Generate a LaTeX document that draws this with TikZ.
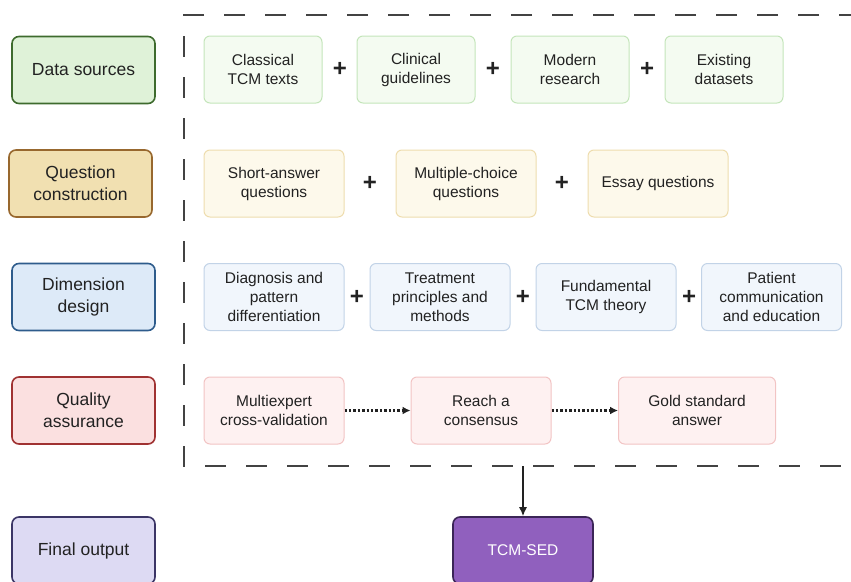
\documentclass[tikz,border=0pt]{standalone}
\usepackage{fontspec}
\setmainfont{Liberation Sans}
\usetikzlibrary{arrows.meta,positioning}
\definecolor{srcfill}{HTML}{DFF2D8}
\definecolor{srcline}{HTML}{3E6B2E}
\definecolor{srcitem}{HTML}{F4FBF1}
\definecolor{srcedge}{HTML}{C4E5BA}
\definecolor{qfill}{HTML}{F1E0B1}
\definecolor{qline}{HTML}{98682E}
\definecolor{qitem}{HTML}{FDF9EB}
\definecolor{qedge}{HTML}{EEDDAE}
\definecolor{dimfill}{HTML}{DDEAF8}
\definecolor{dimline}{HTML}{2E5C8C}
\definecolor{dimitem}{HTML}{F1F6FC}
\definecolor{dimedge}{HTML}{C2D3E7}
\definecolor{qafill}{HTML}{FBE0E0}
\definecolor{qaline}{HTML}{A03232}
\definecolor{qaitem}{HTML}{FEF1F1}
\definecolor{qaedge}{HTML}{F2C4C4}
\definecolor{outfill}{HTML}{DDDAF3}
\definecolor{outline}{HTML}{3B3566}
\definecolor{sedfill}{HTML}{9060BE}
\definecolor{sedline}{HTML}{3B2557}
\definecolor{ink}{HTML}{222222}
\tikzset{
  stage/.style args={#1/#2}{fill=#1,draw=#2,line width=1.6pt,rounded corners=7pt,
    minimum width=143pt,minimum height=67pt,align=center,text=ink,
    font=\fontsize{17.5}{22}\selectfont},
  item/.style args={#1/#2}{fill=#1,draw=#2,line width=1pt,rounded corners=6pt,
    minimum height=67pt,align=center,text=ink,font=\fontsize{15.5}{19}\selectfont},
  plus/.style={font=\fontsize{24}{24}\selectfont\bfseries,text=ink,inner sep=0pt},
  flow/.style={-{Latex[length=8pt,width=8pt]},line width=2.4pt,dash pattern=on 2.4pt off 2pt,ink}
}
\begin{document}
\begin{tikzpicture}[x=1pt,y=-1pt]
  \useasboundingbox (0,0) rectangle (851,581);
  \clip (0,0) rectangle (851,581);
  % dashed frame round the four stages
  \draw[line width=2pt,color=ink!85,dash pattern=on 21pt off 20pt,dash phase=21pt]
    (880,15) -- (184,15) -- (184,466) -- (880,466);
  % left column
  \node[stage=srcfill/srcline] (src) at (83.5,70) {Data sources};
  \node[stage=qfill/qline] (qc) at (80.5,183.5) {Question\\construction};
  \node[stage=dimfill/dimline] (dim) at (83.5,297) {Dimension\\design};
  \node[stage=qafill/qaline] (qa) at (83.5,410.5) {Quality\\assurance};
  \node[stage=outfill/outline] (out) at (83.5,550.5) {Final output};
  % data sources
  \foreach \x/\t [count=\i] in {263/{Classical\\TCM texts}, 416/{Clinical\\guidelines}, 570/{Modern\\research}, 724/{Existing\\datasets}}{
    \node[item=srcitem/srcedge,minimum width=118pt] (s\i) at (\x,69.5) {\t};
    \ifnum\i<4 \node[plus] (sp\i) at (\x+77,69.5) {+};\fi
  }
  % question construction
  \foreach \x/\t [count=\i] in {274/{Short-answer\\questions}, 466/{Multiple-choice\\questions}, 658/{Essay questions}}{
    \node[item=qitem/qedge,minimum width=140pt] (q\i) at (\x,183.5) {\t};
    \ifnum\i<3 \node[plus] (qp\i) at (\x+96,183.5) {+};\fi
  }
  % dimension design
  \foreach \x/\t [count=\i] in {274/{Diagnosis and\\pattern\\differentiation}, 440/{Treatment\\principles and\\methods}, 606/{Fundamental\\TCM theory}, 771.5/{Patient\\communication\\and education}}{
    \node[item=dimitem/dimedge,minimum width=140pt] (d\i) at (\x,297) {\t};
    \ifnum\i<4 \node[plus] (dp\i) at (\x+83,297) {+};\fi
  }
  % quality assurance
  \node[item=qaitem/qaedge,minimum width=140pt] (a1) at (274,410.5) {Multiexpert\\cross-validation};
  \node[item=qaitem/qaedge,minimum width=140pt] (a2) at (481,410.5) {Reach a\\consensus};
  \node[item=qaitem/qaedge,minimum width=157pt] (a3) at (697,410.5) {Gold standard\\answer};
  \draw[flow] (a1) -- (a2);
  \draw[flow] (a2) -- (a3);
  % final output
  \node[fill=sedfill,draw=sedline,line width=1.6pt,rounded corners=7pt,minimum width=140pt,
    minimum height=67pt,text=white,font=\fontsize{15.5}{19}\selectfont] (sed) at (523,550.5) {TCM-SED};
  \coordinate (frame) at (523,466);
  \draw[-{Latex[length=9pt,width=8pt]},line width=1.4pt,ink] (frame) -- (sed);
\end{tikzpicture}
\end{document}
